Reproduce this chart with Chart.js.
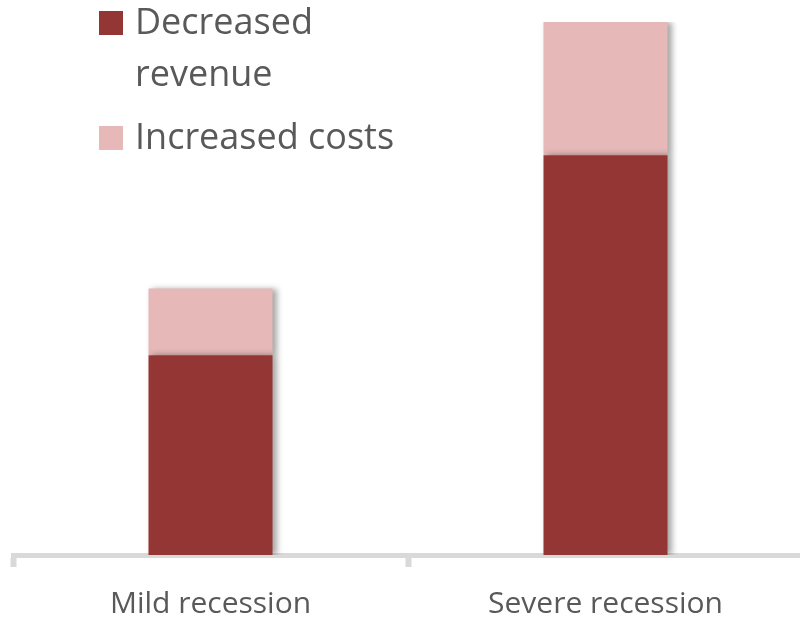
<!DOCTYPE html>
<html>
<head>
<meta charset="utf-8">
<script src="https://cdn.jsdelivr.net/npm/chart.js@4.4.1/dist/chart.umd.min.js"></script>
<style>
  html, body { margin: 0; padding: 0; background: #ffffff; overflow: hidden; }
  #wrap { position: relative; width: 810px; height: 648px; }
  #legend {
    position: absolute; left: 99px; top: -5px; margin: 0; padding: 0; list-style: none;
    font-family: "Open Sans", sans-serif; font-size: 36px; line-height: 52px; color: #595959;
  }
  #legend li { display: flex; align-items: flex-start; margin-bottom: 11px; }
  #legend .box { flex: none; width: 24px; height: 24px; margin: 16px 12px 0 0; }
  #legend .txt { max-width: 285px; }
</style>
</head>
<body>
<div id="wrap">
  <canvas id="chart" width="810" height="648"></canvas>
  <ul id="legend"></ul>
</div>
<script>
const categories = ["Mild recession", "Severe recession"];
const decreasedRevenue = [3, 6];
const increasedCosts = [1, 2];
const seriesLabels = ["Decreased revenue", "Increased costs"];
const seriesColors = ["#943634", "#e6b8b7"];

const axisGray = "#d9d9d9";
const textGray = "#595959";

const barShadow = {
  id: "barShadow",
  beforeDatasetsDraw(chart) {
    const { ctx } = chart;
    ctx.save();
    ctx.shadowColor = "rgba(0,0,0,0.35)";
    ctx.shadowBlur = 6;
    ctx.shadowOffsetX = 4;
    ctx.shadowOffsetY = 0;
  },
  afterDatasetsDraw(chart) {
    chart.ctx.restore();
  },
};

const datasets = [decreasedRevenue, increasedCosts].map((data, i) => ({
  label: seriesLabels[i],
  data,
  backgroundColor: seriesColors[i],
  borderWidth: 0,
  categoryPercentage: 1,
  barPercentage: 0.314,
}));

const chart = new Chart(document.getElementById("chart"), {
  type: "bar",
  data: { labels: categories, datasets },
  plugins: [barShadow],
  options: {
    responsive: false,
    animation: false,
    layout: { padding: { left: 13, right: 7, top: 22, bottom: 7 } },
    plugins: {
      legend: { display: false },
      tooltip: { enabled: false },
    },
    scales: {
      x: {
        stacked: true,
        grid: {
          offset: true,
          drawOnChartArea: false,
          drawTicks: true,
          tickLength: 12,
          tickWidth: 6,
          tickColor: axisGray,
        },
        border: { display: true, color: axisGray, width: 5 },
        ticks: {
          color: textGray,
          padding: 19,
          font: { family: "'Open Sans', sans-serif", size: 30 },
        },
      },
      y: {
        stacked: true,
        display: false,
        min: 0,
        max: 8,
      },
    },
  },
});

// html legend built from the datasets
const legendEl = document.getElementById("legend");
chart.data.datasets.forEach((ds) => {
  const li = document.createElement("li");
  const box = document.createElement("span");
  box.className = "box";
  box.style.background = ds.backgroundColor;
  const txt = document.createElement("span");
  txt.className = "txt";
  txt.textContent = ds.label;
  li.appendChild(box);
  li.appendChild(txt);
  legendEl.appendChild(li);
});
</script>
</body>
</html>
